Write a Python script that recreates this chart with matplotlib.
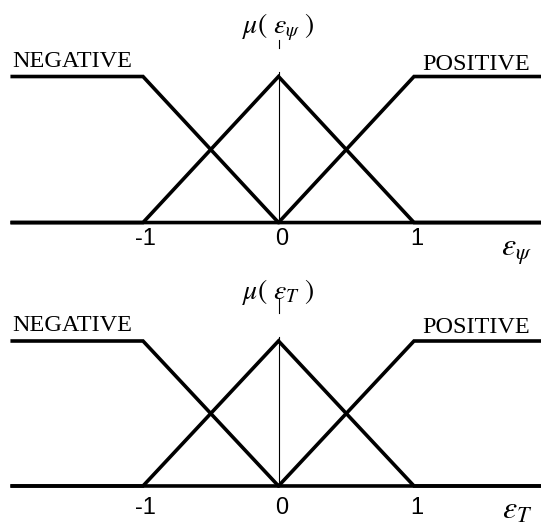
import matplotlib
matplotlib.use("Agg")
import matplotlib.pyplot as plt

OUT_FIGURE = "out.png"

# membership functions (x breakpoints, membership values)
NEG_X = [-1.965, -1, 0, 2.05]
NEG_MU = [1, 1, 0, 0]
ZERO_X = [-1.965, -1, 0, 1, 2.05]
ZERO_MU = [0, 0, 1, 0, 0]
POS_X = [-1.965, 0, 1, 2.05]
POS_MU = [0, 0, 1, 1]

TICKS = [-1, 0, 1]
TICK_LABELS = ["-1", "0", "1"]
SET_LABELS = ["NEGATIVE", "POSITIVE"]
VARIABLES = [r"\psi", "T"]

plt.rcParams["mathtext.fontset"] = "stix"

fig = plt.figure(figsize=(5.41, 5.27), dpi=100)

# pixel layout: x = 278.5 + 135.5 * e
XLIM = (-278.5 / 135.5, (541 - 278.5) / 135.5)

panels = [
    dict(rect=[0, 1 - 263 / 527, 1, 263 / 527], ylim=(-0.277, 1.524),
         tick_y=-0.11, neg_y=1.106, pos_y=1.08, mu_y=1.34,
         mu_tick=(1.195, 1.25), lab_y=-0.2),
    dict(rect=[0, 0, 1, 264 / 527], ylim=(-0.283, 1.538),
         tick_y=-0.15, neg_y=1.107, pos_y=1.093, mu_y=1.335,
         mu_tick=(1.193, 1.297), lab_y=-0.165),
]

for var, p in zip(VARIABLES, panels):
    ax = fig.add_axes(p["rect"])
    ax.set_xlim(*XLIM)
    ax.set_ylim(*p["ylim"])
    ax.axis("off")

    for xs, mus in [(NEG_X, NEG_MU), (ZERO_X, ZERO_MU), (POS_X, POS_MU)]:
        ax.plot(xs, mus, color="black", linewidth=2.6, solid_joinstyle="miter")

    # thin vertical axis at 0 and the small tick under the label
    ax.plot([0, 0], [0, 1.03], color="black", linewidth=0.8)
    ax.plot([0, 0], list(p["mu_tick"]), color="black", linewidth=0.8)

    for t, lab in zip(TICKS, TICK_LABELS):
        ax.text(t + 0.02, p["tick_y"], lab, ha="center", va="center",
                fontsize=17, family="Liberation Sans")

    ax.text(-1.967, p["neg_y"], SET_LABELS[0], ha="left", va="center",
            fontsize=17.5, family="Liberation Serif")
    ax.text(1.856, p["pos_y"], SET_LABELS[1], ha="right", va="center",
            fontsize=17.5, family="Liberation Serif")

    ax.text(0.0, p["mu_y"], r"$\mu(\ \varepsilon_{%s}\ )$" % var,
            ha="center", va="center", fontsize=20)
    ax.text(1.76, p["lab_y"], r"$\varepsilon_{%s}$" % var,
            ha="center", va="center", fontsize=23)

fig.savefig(OUT_FIGURE, dpi=100)
plt.close(fig)
